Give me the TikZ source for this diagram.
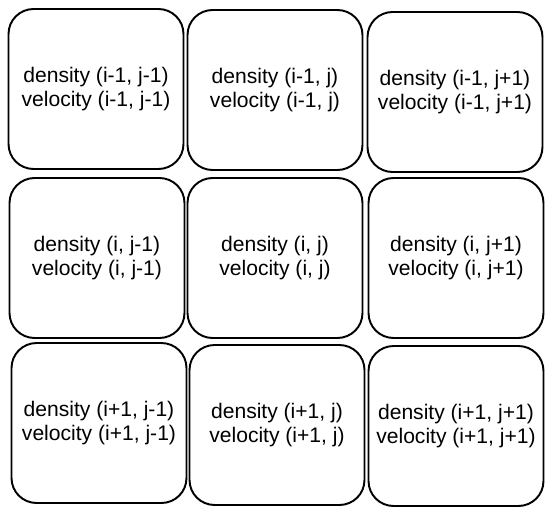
\documentclass[tikz,border=0pt]{standalone}
\usepackage{fontspec}
\setmainfont{Liberation Sans}
\usepackage{tikz}
\usetikzlibrary{positioning}

\begin{document}
\begin{tikzpicture}[x=0.02cm, y=-0.02cm, cell/.style={rectangle, draw, line width=1.1pt, rounded corners=0.5cm, minimum width=3.5cm, minimum height=3.2cm, align=center, font=\fontsize{12}{13.5}\selectfont}]
\useasboundingbox (0,0) rectangle (554,517);
\node [cell] (c11) at (96,89) {density (i-1, j-1)\\velocity (i-1, j-1)};
\node [cell] (c12) at (275,90) {density (i-1, j)\\velocity (i-1, j)};
\node [cell] (c13) at (455,92) {density (i-1, j+1)\\velocity (i-1, j+1)};
\node [cell] (c21) at (97,258) {density (i, j-1)\\velocity (i, j-1)};
\node [cell] (c22) at (275,258) {density (i, j)\\velocity (i, j)};
\node [cell] (c23) at (456,258) {density (i, j+1)\\velocity (i, j+1)};
\node [cell] (c31) at (99,423) {density (i+1, j-1)\\velocity (i+1, j-1)};
\node [cell] (c32) at (277,425) {density (i+1, j)\\velocity (i+1, j)};
\node [cell] (c33) at (456,426) {density (i+1, j+1)\\velocity (i+1, j+1)};
\end{tikzpicture}
\end{document}
